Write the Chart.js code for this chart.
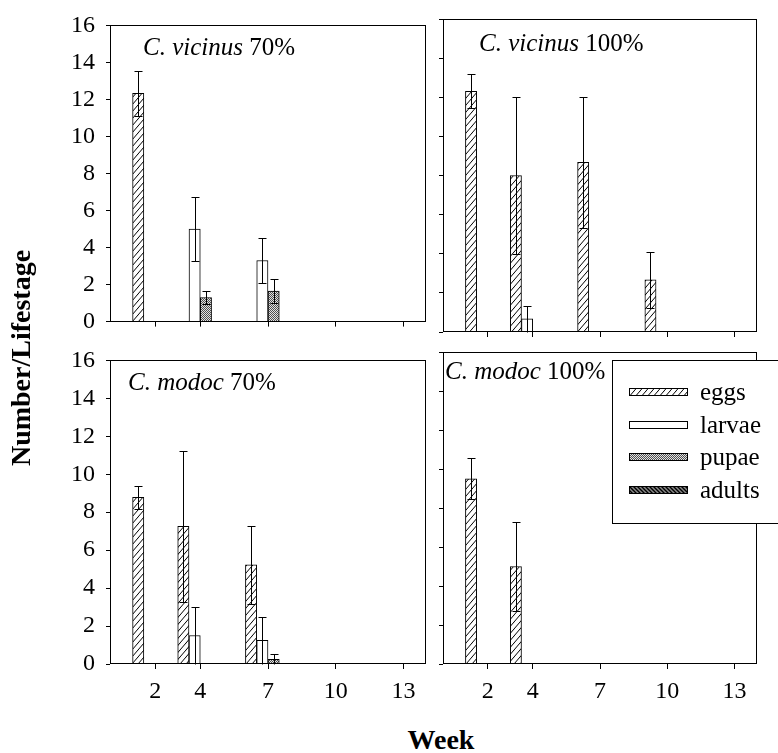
<!DOCTYPE html>
<html>
<head>
<meta charset="utf-8">
<title>Number per lifestage by week</title>
<script src="https://cdn.jsdelivr.net/npm/chart.js@4.4.1/dist/chart.umd.min.js"></script>
<style>
  body { margin: 0; background: #fff; }
  #wrap { position: relative; width: 778px; height: 753px; overflow: hidden; background: #fff;
          font-family: 'Liberation Serif'; }
  #wrap canvas { position: absolute; }
  .axis-title { position: absolute; font-weight: bold; font-size: 28px; line-height: 34px;
                color: #000; white-space: nowrap; text-align: center; }
  #ytitle { width: 260px; left: -109px; top: 341px; transform: rotate(-90deg); }
  #xtitle { width: 200px; left: 341px; top: 723px; }
</style>
</head>
<body>
<div id="wrap">
  <canvas id="vic70" width="430" height="347" style="left:0;top:0"></canvas>
  <canvas id="vic100" width="348" height="347" style="left:430px;top:0"></canvas>
  <canvas id="mod70" width="430" height="375" style="left:0;top:335px"></canvas>
  <canvas id="mod100" width="348" height="375" style="left:430px;top:335px"></canvas>
  <div class="axis-title" id="ytitle">Number/Lifestage</div>
  <div class="axis-title" id="xtitle">Week</div>
</div>
<script>
var weeks = [2, 4, 7, 10, 13];
var stages = ['eggs', 'larvae', 'pupae', 'adults'];
var yTicks = [0, 2, 4, 6, 8, 10, 12, 14, 16];

// rows: eggs, larvae, pupae, adults; columns follow weeks
var vic70Mean = [
  [12.33, 0, 0, 0, 0],
  [0, 5.0, 3.3, 0, 0],
  [0, 1.3, 1.65, 0, 0],
  [0, 0, 0, 0, 0]
];
var vic70Err = [
  [1.2, 0, 0, 0, 0],
  [0, 1.75, 1.2, 0, 0],
  [0, 0.33, 0.65, 0, 0],
  [0, 0, 0, 0, 0]
];
var vic100Mean = [
  [12.3, 8.0, 8.67, 2.67, 0],
  [0, 0.67, 0, 0, 0],
  [0, 0, 0, 0, 0],
  [0, 0, 0, 0, 0]
];
var vic100Err = [
  [0.87, 4.0, 3.33, 1.43, 0],
  [0, 0.67, 0, 0, 0],
  [0, 0, 0, 0, 0],
  [0, 0, 0, 0, 0]
];
var mod70Mean = [
  [8.78, 7.25, 5.22, 0, 0],
  [0, 1.5, 1.25, 0, 0],
  [0, 0, 0.25, 0, 0],
  [0, 0, 0, 0, 0]
];
var mod70Err = [
  [0.6, 4.0, 2.07, 0, 0],
  [0, 1.5, 1.25, 0, 0],
  [0, 0, 0.28, 0, 0],
  [0, 0, 0, 0, 0]
];
var mod100Mean = [
  [9.5, 5.0, 0, 0, 0],
  [0, 0, 0, 0, 0],
  [0, 0, 0, 0, 0],
  [0, 0, 0, 0, 0]
];
var mod100Err = [
  [1.05, 2.3, 0, 0, 0],
  [0, 0, 0, 0, 0],
  [0, 0, 0, 0, 0],
  [0, 0, 0, 0, 0]
];

// canvas text only resolves a single family name here
var SERIF = "'Liberation Serif'";
Chart.defaults.font.family = SERIF;
Chart.defaults.color = '#000';

// fill patterns for the four lifestages
function tile(w, h, draw) {
  var c = document.createElement('canvas');
  c.width = w; c.height = h;
  var g = c.getContext('2d');
  draw(g, w, h);
  return g.createPattern(c, 'repeat');
}
var eggFill = tile(6, 7, function (g, w, h) {
  g.fillStyle = '#fff'; g.fillRect(0, 0, w, h);
  g.strokeStyle = '#000'; g.lineWidth = 1;
  g.beginPath();
  g.moveTo(0, h); g.lineTo(w, 0);
  g.moveTo(-w, h); g.lineTo(0, 0);
  g.moveTo(w, 2 * h); g.lineTo(2 * w, h);
  g.moveTo(0, 2 * h); g.lineTo(2 * w, 0);
  g.moveTo(-w, h); g.lineTo(w, -h);
  g.stroke();
});
var larvaFill = '#fff';
var pupaFill = tile(2, 2, function (g) {
  g.fillStyle = '#e2e2e2'; g.fillRect(0, 0, 2, 2);
  g.fillStyle = '#505050'; g.fillRect(0, 0, 1, 1); g.fillRect(1, 1, 1, 1);
});
var adultFill = tile(4, 4, function (g, w, h) {
  g.fillStyle = '#8a8a8a'; g.fillRect(0, 0, w, h);
  g.strokeStyle = '#000'; g.lineWidth = 1.4;
  g.beginPath();
  g.moveTo(0, 0); g.lineTo(w, h);
  g.moveTo(-w, 0); g.lineTo(w, 2 * h);
  g.moveTo(0, -h); g.lineTo(2 * w, h);
  g.stroke();
});
var fills = [eggFill, larvaFill, pupaFill, adultFill];

var framePlugin = {
  id: 'frame',
  afterDatasetsDraw: function (chart) {
    var a = chart.chartArea, ctx = chart.ctx;
    ctx.save();
    ctx.strokeStyle = '#000';
    ctx.lineWidth = 1;
    var l = Math.round(a.left) + 0.5, t = Math.round(a.top) + 0.5;
    var r = Math.round(a.right) - 0.5, b = Math.round(a.bottom) - 0.5;
    ctx.strokeRect(l, t, r - l, b - t);
    ctx.restore();
  }
};

var errorBarPlugin = {
  id: 'errorBars',
  afterDatasetsDraw: function (chart) {
    var ctx = chart.ctx, ys = chart.scales.y;
    ctx.save();
    ctx.strokeStyle = '#000';
    ctx.lineWidth = 1;
    chart.data.datasets.forEach(function (ds, i) {
      chart.getDatasetMeta(i).data.forEach(function (bar, j) {
        var err = ds.errors[j];
        if (!err) return;
        var v = ds.data[j].y;
        var lo = Math.max(0, v - err);
        var x = Math.round(bar.x) + 0.5;
        var top = Math.round(ys.getPixelForValue(v + err)) + 0.5;
        var bot = Math.round(ys.getPixelForValue(lo)) + 0.5;
        ctx.beginPath();
        ctx.moveTo(x, top); ctx.lineTo(x, bot);
        ctx.moveTo(x - 4, top); ctx.lineTo(x + 4, top);
        if (lo > 0) { ctx.moveTo(x - 4, bot); ctx.lineTo(x + 4, bot); }
        ctx.stroke();
      });
    });
    ctx.restore();
  }
};

var panelTitlePlugin = {
  id: 'panelTitle',
  afterDraw: function (chart, args, opts) {
    var ctx = chart.ctx, a = chart.chartArea;
    var x = a.left + opts.dx, y = a.top + opts.dy;
    ctx.save();
    ctx.fillStyle = '#000';
    ctx.textBaseline = 'alphabetic';
    ctx.textAlign = 'left';
    ctx.font = 'italic 25px ' + SERIF;
    ctx.fillText(opts.species, x, y);
    x += ctx.measureText(opts.species + ' ').width;
    ctx.font = '25px ' + SERIF;
    ctx.fillText(opts.level, x, y);
    ctx.restore();
  }
};

// boxed legend that sits over the upper right of its panel
var boxLegendPlugin = {
  id: 'boxLegend',
  afterDraw: function (chart, args, opts) {
    var ctx = chart.ctx;
    ctx.save();
    ctx.fillStyle = '#fff';
    ctx.fillRect(opts.x, opts.y, opts.w, opts.h);
    ctx.strokeStyle = '#000';
    ctx.lineWidth = 1;
    ctx.strokeRect(opts.x + 0.5, opts.y + 0.5, opts.w, opts.h);
    ctx.font = '25px ' + SERIF;
    ctx.textBaseline = 'middle';
    chart.data.datasets.forEach(function (ds, i) {
      var cy = Math.round(opts.y + opts.firstRow + i * opts.rowGap);
      ctx.fillStyle = ds.backgroundColor;
      ctx.fillRect(opts.x + 17, cy - 3, 58, 6);
      ctx.strokeRect(opts.x + 17.5, cy - 3.5, 58, 7);
      ctx.fillStyle = '#000';
      ctx.fillText(ds.label, opts.x + 88, cy + 1);
    });
    ctx.restore();
  }
};

function makePanel(id, means, errs, o) {
  var datasets = stages.map(function (s, i) {
    return {
      label: s,
      data: weeks.map(function (w, j) { return { x: w, y: means[i][j] }; }),
      errors: errs[i],
      backgroundColor: fills[i],
      borderColor: '#000',
      borderWidth: 1,
      categoryPercentage: 1,
      barPercentage: 1
    };
  });
  var plugins = [framePlugin, errorBarPlugin, panelTitlePlugin];
  if (o.legend) plugins.push(boxLegendPlugin);
  return new Chart(document.getElementById(id), {
    type: 'bar',
    data: { datasets: datasets },
    plugins: plugins,
    options: {
      responsive: false,
      animation: false,
      events: [],
      layout: { padding: { top: o.top, right: o.right, left: 0, bottom: 0 } },
      plugins: {
        legend: { display: false },
        tooltip: { enabled: false },
        panelTitle: o.title,
        boxLegend: o.legend || {}
      },
      scales: {
        x: {
          type: 'linear',
          min: 0,
          max: 14,
          offset: false,
          afterBuildTicks: function (s) { s.ticks = weeks.map(function (w) { return { value: w }; }); },
          afterFit: function (s) { s.height = o.xHeight; },
          border: { display: false },
          grid: { display: true, offset: false, drawOnChartArea: false, drawTicks: true, tickLength: 5, color: '#000' },
          ticks: { display: o.xLabels, autoSkip: false, maxRotation: 0, padding: 8, color: '#000',
                   font: { family: SERIF, size: 24 } }
        },
        y: {
          min: 0,
          max: 16,
          afterBuildTicks: function (s) { s.ticks = yTicks.map(function (v) { return { value: v }; }); },
          afterFit: function (s) { s.width = o.yWidth; },
          border: { display: false },
          grid: { display: true, drawOnChartArea: false, drawTicks: true, tickLength: 4, color: '#000' },
          ticks: { display: o.yLabels, padding: 11, color: '#000',
                   font: { family: SERIF, size: 24 } }
        }
      }
    }
  });
}

makePanel('vic70', vic70Mean, vic70Err, {
  top: 19, right: 4, xHeight: 15, yWidth: 110, xLabels: false, yLabels: true,
  title: { species: 'C. vicinus', level: '70%', dx: 33, dy: 30 }
});
makePanel('vic100', vic100Mean, vic100Err, {
  top: 19, right: 21, xHeight: 15, yWidth: 13, xLabels: false, yLabels: false,
  title: { species: 'C. vicinus', level: '100%', dx: 36, dy: 32 }
});
makePanel('mod70', mod70Mean, mod70Err, {
  top: 17, right: 4, xHeight: 46, yWidth: 110, xLabels: true, yLabels: true,
  title: { species: 'C. modoc', level: '70%', dx: 18, dy: 30 }
});
makePanel('mod100', mod100Mean, mod100Err, {
  top: 17, right: 21, xHeight: 46, yWidth: 13, xLabels: true, yLabels: false,
  title: { species: 'C. modoc', level: '100%', dx: 2, dy: 27 },
  legend: { x: 182, y: 25, w: 170, h: 163, firstRow: 32, rowGap: 32.7 }
});
</script>
</body>
</html>
